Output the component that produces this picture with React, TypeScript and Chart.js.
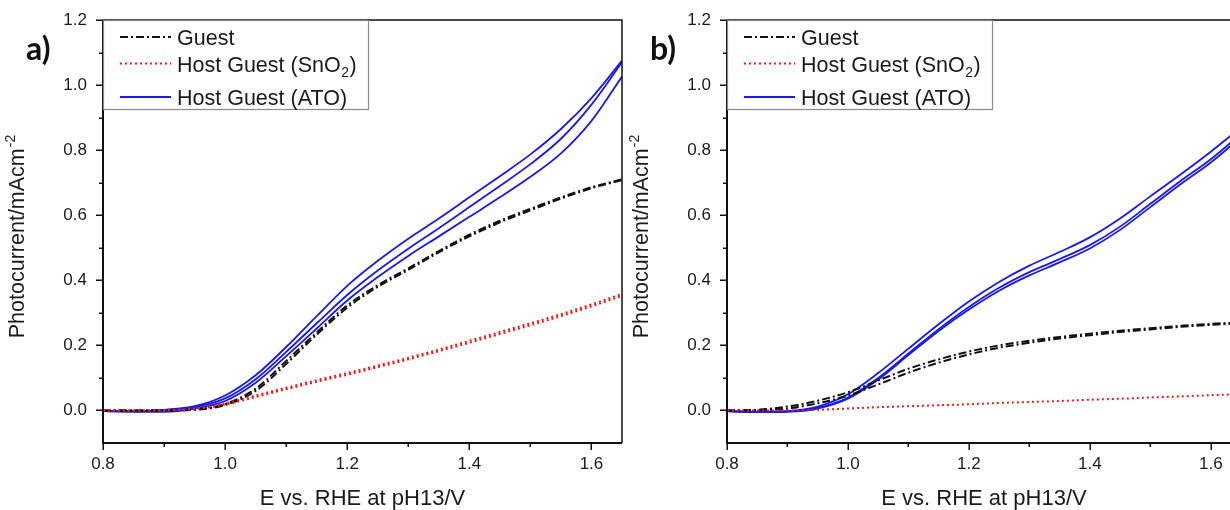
import React, { useEffect, useRef } from "react";
import { Chart, registerables } from "chart.js";

Chart.register(...registerables);

// ---------- data ----------
const potentials = [0.8, 0.85, 0.9, 0.95, 1.0, 1.05, 1.1, 1.15, 1.2, 1.25, 1.3, 1.35, 1.4, 1.45, 1.5, 1.55, 1.6, 1.65];

// panel a
const aGuestScan1 = [0, 0, 0, 0.003, 0.02, 0.067, 0.152, 0.24, 0.323, 0.385, 0.437, 0.49, 0.54, 0.583, 0.62, 0.655, 0.686, 0.71];
const aGuestScan2 = [0, 0, 0, 0.002, 0.017, 0.06, 0.143, 0.233, 0.316, 0.38, 0.432, 0.486, 0.535, 0.578, 0.615, 0.651, 0.683, 0.708];
const aSnO2Scan1 = [0, 0, 0.001, 0.006, 0.022, 0.046, 0.07, 0.093, 0.115, 0.138, 0.162, 0.187, 0.214, 0.241, 0.268, 0.296, 0.326, 0.358];
const aSnO2Scan2 = [0, 0, 0, 0.004, 0.018, 0.041, 0.065, 0.088, 0.11, 0.133, 0.157, 0.182, 0.208, 0.235, 0.262, 0.29, 0.32, 0.352];
const aAtoScan1 = [-0.002, -0.002, 0.002, 0.013, 0.046, 0.108, 0.195, 0.29, 0.383, 0.46, 0.528, 0.59, 0.655, 0.72, 0.787, 0.865, 0.96, 1.075];
const aAtoScan2 = [-0.002, -0.003, 0.001, 0.01, 0.037, 0.096, 0.18, 0.268, 0.355, 0.43, 0.497, 0.56, 0.625, 0.69, 0.757, 0.835, 0.94, 1.07];
const aAtoScan3 = [-0.002, -0.004, -0.004, 0.006, 0.029, 0.085, 0.167, 0.252, 0.338, 0.41, 0.475, 0.535, 0.595, 0.655, 0.718, 0.79, 0.89, 1.026];

// panel b
const bGuestScan1 = [0, 0.002, 0.012, 0.03, 0.056, 0.092, 0.128, 0.157, 0.181, 0.2, 0.214, 0.226, 0.236, 0.245, 0.253, 0.26, 0.266, 0.271];
const bGuestScan2 = [0, 0.001, 0.006, 0.022, 0.046, 0.08, 0.116, 0.147, 0.172, 0.193, 0.208, 0.221, 0.231, 0.241, 0.249, 0.257, 0.263, 0.268];
const bSnO2Scan1 = [0, 0, 0, 0.002, 0.006, 0.01, 0.013, 0.016, 0.019, 0.023, 0.026, 0.029, 0.033, 0.036, 0.04, 0.043, 0.047, 0.05];
const bAtoScan1 = [-0.002, -0.004, -0.002, 0.012, 0.05, 0.115, 0.19, 0.265, 0.335, 0.395, 0.445, 0.487, 0.532, 0.59, 0.658, 0.725, 0.795, 0.87];
const bAtoScan2 = [-0.002, -0.005, -0.003, 0.008, 0.04, 0.1, 0.175, 0.25, 0.318, 0.377, 0.425, 0.465, 0.508, 0.565, 0.635, 0.705, 0.772, 0.85];
const bAtoScan3 = [-0.002, -0.005, -0.004, 0.006, 0.036, 0.095, 0.17, 0.244, 0.31, 0.368, 0.415, 0.455, 0.498, 0.555, 0.625, 0.695, 0.762, 0.84];

// axes
const xMajorTicks = [0.8, 1.0, 1.2, 1.4, 1.6];
const xMinorTicks = [0.9, 1.1, 1.3, 1.5];
const yMajorTicks = [0, 0.2, 0.4, 0.6, 0.8, 1.0, 1.2];
const yMinorTicks = [0.1, 0.3, 0.5, 0.7, 0.9, 1.1];

const legendLabels = ["Guest", "Host Guest (SnO", "Host Guest (ATO)"];
const xAxisTitle = "E vs. RHE at pH13/V";
const yAxisTitle = "Photocurrent/mAcm";
const yAxisTitleSup = "-2";
const panelLabels = ["a)", "b)"];

// ---------- styles ----------
const FONT = '"Liberation Sans", Arial, sans-serif';
const TEXT = "#1a1a1a";
const BLACK = "#111111";
const RED = "#f01818";
const BLUE = "#1a1ae8";
const GUEST_DASH = [8, 3, 2, 3];
const DOT_DASH = [2, 3];

const toPoints = (ys: number[]) => ys.map((y, i) => ({ x: potentials[i], y }));

function guestSet(ys: number[]) {
  return { data: toPoints(ys), borderColor: BLACK, borderWidth: 2, borderDash: GUEST_DASH, cubicInterpolationMode: "monotone" as const, pointRadius: 0, fill: false };
}
function snSet(ys: number[]) {
  return { data: toPoints(ys), borderColor: RED, borderWidth: 2, borderDash: DOT_DASH, cubicInterpolationMode: "monotone" as const, pointRadius: 0, fill: false };
}
function atoSet(ys: number[]) {
  return { data: toPoints(ys), borderColor: BLUE, borderWidth: 1.8, cubicInterpolationMode: "monotone" as const, pointRadius: 0, fill: false };
}

function makeDecorPlugin(label: string) {
  return {
    id: "decor",
    afterDraw(chart: any) {
      const ctx = chart.ctx as CanvasRenderingContext2D;
      const a = chart.chartArea;
      const xs = chart.scales.x;
      const ys = chart.scales.y;
      ctx.save();
      ctx.setLineDash([]);
      ctx.strokeStyle = BLACK;
      // top & right frame
      ctx.lineWidth = 1.5;
      ctx.beginPath();
      ctx.moveTo(a.left, a.top);
      ctx.lineTo(a.right, a.top);
      ctx.lineTo(a.right, a.bottom);
      ctx.stroke();
      // left & bottom axes
      ctx.lineWidth = 2;
      ctx.beginPath();
      ctx.moveTo(a.left, a.top);
      ctx.lineTo(a.left, a.bottom);
      ctx.lineTo(a.right, a.bottom);
      ctx.stroke();
      // ticks
      ctx.lineWidth = 1.5;
      ctx.beginPath();
      xMajorTicks.forEach((v) => {
        const p = Math.round(xs.getPixelForValue(v)) + 0.25;
        ctx.moveTo(p, a.bottom);
        ctx.lineTo(p, a.bottom + 7);
      });
      xMinorTicks.forEach((v) => {
        const p = Math.round(xs.getPixelForValue(v)) + 0.25;
        ctx.moveTo(p, a.bottom);
        ctx.lineTo(p, a.bottom + 4);
      });
      yMajorTicks.forEach((v) => {
        const p = Math.round(ys.getPixelForValue(v)) + 0.25;
        ctx.moveTo(a.left, p);
        ctx.lineTo(a.left - 7, p);
      });
      yMinorTicks.forEach((v) => {
        const p = Math.round(ys.getPixelForValue(v)) + 0.25;
        ctx.moveTo(a.left, p);
        ctx.lineTo(a.left - 4, p);
      });
      ctx.stroke();

      // legend
      const lx = a.left;
      const ly = a.top;
      ctx.fillStyle = "#ffffff";
      ctx.fillRect(lx, ly, 265, 89);
      ctx.strokeStyle = "#8a8a8a";
      ctx.lineWidth = 1.2;
      ctx.strokeRect(lx + 0.5, ly + 0.5, 265, 89);
      const rows = [17, 43.5, 77];
      const base = [25.3, 52, 85];
      ctx.lineWidth = 2;
      ctx.strokeStyle = BLACK;
      ctx.setLineDash(GUEST_DASH);
      ctx.beginPath();
      ctx.moveTo(lx + 17, ly + rows[0]);
      ctx.lineTo(lx + 68, ly + rows[0]);
      ctx.stroke();
      ctx.strokeStyle = RED;
      ctx.setLineDash(DOT_DASH);
      ctx.beginPath();
      ctx.moveTo(lx + 17, ly + rows[1]);
      ctx.lineTo(lx + 68, ly + rows[1]);
      ctx.stroke();
      ctx.strokeStyle = BLUE;
      ctx.setLineDash([]);
      ctx.beginPath();
      ctx.moveTo(lx + 17, ly + rows[2]);
      ctx.lineTo(lx + 68, ly + rows[2]);
      ctx.stroke();
      ctx.fillStyle = TEXT;
      ctx.textAlign = "left";
      ctx.textBaseline = "alphabetic";
      ctx.font = `21.5px ${FONT}`;
      const tx = lx + 74;
      ctx.fillText(legendLabels[0], tx, ly + base[0]);
      ctx.fillText(legendLabels[1], tx, ly + base[1]);
      const w = ctx.measureText(legendLabels[1]).width;
      ctx.font = `14px ${FONT}`;
      ctx.fillText("2", tx + w + 0.5, ly + base[1] + 5);
      const w2 = ctx.measureText("2").width;
      ctx.font = `21.5px ${FONT}`;
      ctx.fillText(")", tx + w + w2 + 1, ly + base[1]);
      ctx.fillText(legendLabels[2], tx, ly + base[2]);

      // x title
      ctx.font = `22px ${FONT}`;
      ctx.textAlign = "center";
      ctx.fillText(xAxisTitle, (a.left + a.right) / 2, 505);

      // y title (rotated) with superscript
      ctx.save();
      const cy = (a.top + a.bottom) / 2 + 5;
      ctx.translate(a.left - 79, cy);
      ctx.rotate(-Math.PI / 2);
      ctx.font = `21.5px ${FONT}`;
      const mw = ctx.measureText(yAxisTitle).width;
      ctx.font = `14px ${FONT}`;
      const sw = ctx.measureText(yAxisTitleSup).width;
      const total = mw + sw + 1;
      ctx.textAlign = "left";
      ctx.font = `21.5px ${FONT}`;
      ctx.fillText(yAxisTitle, -total / 2, 0);
      ctx.font = `14px ${FONT}`;
      ctx.fillText(yAxisTitleSup, -total / 2 + mw + 1, -9);
      ctx.restore();

      // panel label
      ctx.font = `bold 32px Lato, "Open Sans", sans-serif`;
      ctx.textAlign = "left";
      ctx.fillStyle = "#111111";
      ctx.fillText(label, a.left - 77, 60);
      ctx.restore();
    },
  };
}

function makeConfig(datasets: any[], label: string, padRight: number) {
  return {
    type: "line" as const,
    data: { datasets },
    options: {
      animation: false as const,
      responsive: false,
      maintainAspectRatio: false,
      layout: { padding: { left: 0, top: 20, right: padRight, bottom: 0 } },
      plugins: { legend: { display: false }, tooltip: { enabled: false } },
      elements: { point: { radius: 0 } },
      scales: {
        x: {
          type: "linear" as const,
          min: 0.8,
          max: 1.65,
          border: { display: false },
          grid: { display: true, drawOnChartArea: false, drawTicks: true, tickLength: 7, color: "rgba(0,0,0,0)" },
          ticks: {
            stepSize: 0.2,
            includeBounds: false,
            autoSkip: false,
            maxRotation: 0,
            padding: 4,
            color: TEXT,
            font: { family: FONT, size: 17 },
            callback: (v: any) => Number(v).toFixed(1),
          },
          afterFit: (s: any) => {
            s.height = 67;
          },
        },
        y: {
          type: "linear" as const,
          min: -0.1,
          max: 1.2,
          border: { display: false },
          grid: { display: true, drawOnChartArea: false, drawTicks: true, tickLength: 7, color: "rgba(0,0,0,0)" },
          ticks: {
            stepSize: 0.2,
            includeBounds: false,
            autoSkip: false,
            padding: 9,
            color: TEXT,
            font: { family: FONT, size: 17 },
            callback: (v: any) => Number(v).toFixed(1),
          },
          afterFit: (s: any) => {
            s.width = 103;
          },
        },
      },
    },
    plugins: [makeDecorPlugin(label)],
  };
}

export default function App() {
  const aRef = useRef<HTMLCanvasElement>(null);
  const bRef = useRef<HTMLCanvasElement>(null);

  useEffect(() => {
    document.body.style.margin = "0";
    const chartA = new Chart(
      aRef.current!,
      makeConfig(
        [
          snSet(aSnO2Scan1),
          snSet(aSnO2Scan2),
          guestSet(aGuestScan1),
          guestSet(aGuestScan2),
          atoSet(aAtoScan1),
          atoSet(aAtoScan2),
          atoSet(aAtoScan3),
        ],
        panelLabels[0],
        4
      ) as any
    );
    const chartB = new Chart(
      bRef.current!,
      makeConfig(
        [
          snSet(bSnO2Scan1),
          guestSet(bGuestScan1),
          guestSet(bGuestScan2),
          atoSet(bAtoScan1),
          atoSet(bAtoScan2),
          atoSet(bAtoScan3),
        ],
        panelLabels[1],
        23
      ) as any
    );
    return () => {
      chartA.destroy();
      chartB.destroy();
    };
  }, []);

  return (
    <div style={{ position: "fixed", left: 0, top: 0, width: 1230, height: 510, overflow: "hidden", background: "#ffffff" }}>
      <canvas ref={aRef} width={626} height={510} style={{ position: "absolute", left: 0, top: 0, width: 626, height: 510 }} />
      <canvas ref={bRef} width={640} height={510} style={{ position: "absolute", left: 624, top: 0, width: 640, height: 510 }} />
    </div>
  );
}
